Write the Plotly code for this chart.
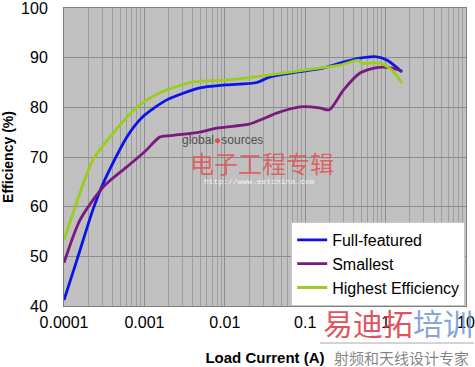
import plotly.graph_objects as go

# Load current (A) and efficiency (%) per design
ff_x = [0.0001, 0.000145, 0.000229, 0.000309, 0.000603, 0.000955, 0.0019, 0.0049, 0.01, 0.025,
        0.036, 0.065, 0.166, 0.27, 0.48, 0.74, 1.05, 1.6]
ff_y = [41.2, 49.3, 59.4, 64.8, 74.0, 78.1, 81.5, 83.9, 84.5, 85.0,
        86.1, 86.9, 87.9, 88.9, 89.9, 90.2, 89.5, 87.1]

sm_x = [0.0001, 0.000158, 0.000309, 0.000603, 0.001, 0.00155, 0.0021, 0.0049, 0.0079, 0.02,
        0.028, 0.045, 0.087, 0.15, 0.2, 0.3, 0.48, 0.78, 1.12, 1.6]
sm_y = [48.7, 57.3, 64.0, 68.0, 71.0, 74.0, 74.3, 75.0, 75.8, 76.6,
        77.5, 78.9, 80.1, 79.9, 79.5, 83.5, 86.9, 88.0, 88.0, 87.3]

he_x = [0.0001, 0.000229, 0.000372, 0.000813, 0.00155, 0.004, 0.01, 0.025, 0.065, 0.166,
        0.27, 0.46, 0.5, 0.85, 1.2, 1.6]
he_y = [53.3, 69.4, 74.0, 80.1, 82.9, 85.1, 85.5, 86.2, 87.1, 88.0,
        88.5, 89.5, 88.9, 88.9, 87.5, 84.9]

names = ["Full-featured", "Smallest", "Highest Efficiency"]
colors = ["#0A14E6", "#7A1A7E", "#9ACD1E"]

x_ticks = [0.0001, 0.001, 0.01, 0.1, 1, 10]
x_tick_text = ["0.0001", "0.001", "0.01", "0.1", "1", "10"]
y_ticks = [40, 50, 60, 70, 80, 90, 100]

fig = go.Figure()
for xs, ys, nm, c in zip([ff_x, sm_x, he_x], [ff_y, sm_y, he_y], names, colors):
    fig.add_trace(go.Scatter(x=xs, y=ys, name=nm, mode="lines",
                             line=dict(color=c, width=2.8, shape="spline", smoothing=0.7)))

font = "Liberation Sans, Arial, sans-serif"
fig.update_layout(
    width=475, height=367,
    margin=dict(l=64, r=9, t=8, b=61, autoexpand=False),
    paper_bgcolor="white", plot_bgcolor="#C0C0C0",
    font=dict(family=font, color="black", size=16),
    showlegend=True,
    legend=dict(x=0.998, y=0.0, xanchor="right", yanchor="bottom",
                bgcolor="white", bordercolor="#C8C8C8", borderwidth=1,
                font=dict(size=16, family=font), tracegroupgap=0,
                itemwidth=30),
    xaxis=dict(type="log", range=[-4, 1], automargin=False,
               tickvals=x_ticks, ticktext=x_tick_text, ticklabeloverflow="allow",
               showgrid=True, gridcolor="#8C8C8C", gridwidth=1,
               minor=dict(showgrid=True, gridcolor="#9E9E9E", gridwidth=1,
                          tickvals=[m * 10 ** e for e in range(-4, 1) for m in range(2, 10)]),
               showline=True, linecolor="#808080", mirror=True,
               ticks="", ticklabelstandoff=2,
               title=dict(text="<b>Load Current (A)</b>", font=dict(size=15), standoff=22),
               zeroline=False),
    yaxis=dict(range=[40, 100], tickvals=y_ticks, automargin=False, ticklabeloverflow="allow",
               showgrid=True, gridcolor="#8C8C8C", gridwidth=1,
               showline=True, linecolor="#808080", mirror=True,
               ticks="", ticklabelstandoff=12,
               title=dict(text="<b>Efficiency (%)</b>", font=dict(size=14), standoff=10),
               zeroline=False),
)


def px(xp):
    return (xp - 64) / 402


def py(yp):
    return (306 - yp) / 298


# watermarks
cjk = "Noto Sans CJK SC"
common = dict(xref="paper", yref="paper", xanchor="center", yanchor="middle", showarrow=False)
fig.add_annotation(x=px(222), y=py(140),
                   text="global<span style='color:#E05050'>●</span>sources",
                   font=dict(size=12, color="#505050", family="Liberation Sans"), **common)
fig.add_annotation(x=px(262), y=py(162), text="电子工程专辑",
                   font=dict(size=24, color="rgba(225,85,85,0.85)", family=cjk), **common)
fig.add_annotation(x=px(259), y=py(181), text="http://www.eetchina.com",
                   font=dict(size=8, color="rgba(255,255,255,0.85)", family="Liberation Mono"), **common)
fig.add_annotation(x=px(398), y=py(322),
                   text="<span style='color:rgba(220,50,60,0.85)'>易迪拓</span><span style='color:rgba(110,150,210,0.85)'>培训</span>",
                   font=dict(size=30, family=cjk), **common)
fig.add_shape(type="line", xref="paper", yref="paper", x0=px(320), x1=px(474), y0=py(343), y1=py(343),
              line=dict(color="#A8A8A8", width=1))
fig.add_annotation(x=px(401), y=py(357), text="射频和天线设计专家",
                   font=dict(size=15, color="rgba(110,110,110,0.85)", family=cjk), **common)

fig.write_html("out.html")
